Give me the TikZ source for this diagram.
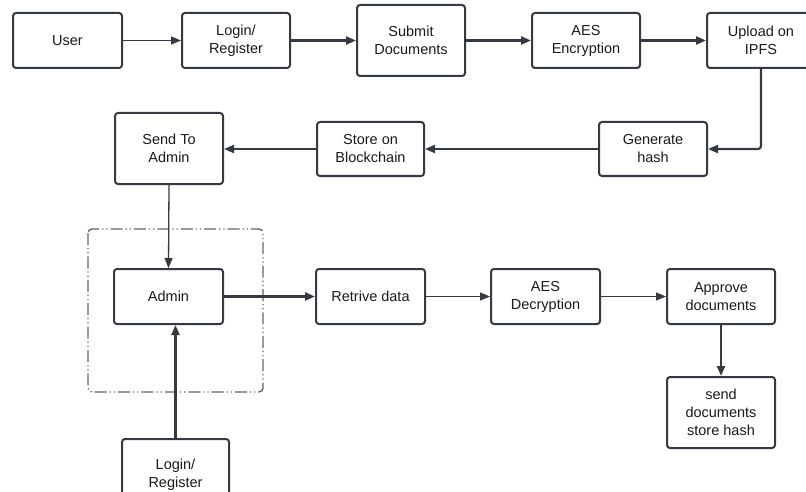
\documentclass[tikz,border=0pt]{standalone}
\usepackage{fontspec}
\setmainfont{Liberation Sans}
\usetikzlibrary{arrows.meta}
\definecolor{ink}{HTML}{353941}
\definecolor{txt}{HTML}{1A1A1A}
\definecolor{frame}{HTML}{666666}
\tikzset{
  box/.style={draw=ink, line width=2pt, rounded corners=3pt, fill=white, align=center,
    text=txt, font=\fontsize{14.5}{18}\selectfont, inner sep=0pt},
  thinarrow/.style={draw=ink, line width=1.3pt, -{Triangle[length=10pt,width=8pt]}},
  thickarrow/.style={draw=ink, line width=2.2pt, -{Triangle[length=10pt,width=8pt]}},
  groupframe/.style={draw=frame, line width=1.4pt, rounded corners=4pt,
    dash pattern=on 12pt off 3pt on 1.2pt off 3pt on 1.2pt off 3pt},
}
\begin{document}
\begin{tikzpicture}[x=1pt,y=-1pt]
\useasboundingbox (0,0) rectangle (806,492);
\clip (0,0) rectangle (806,492);
\fill[white] (0,0) rectangle (806,492);

\draw[groupframe] (88,229) rectangle (263,392);

\node[box, minimum width=109pt, minimum height=55pt] (user) at (67.5,40.5) {User};
\node[box, minimum width=108pt, minimum height=55pt] (login1) at (236,40.5) {Login/\\Register};
\node[box, minimum width=108pt, minimum height=71pt] (submit) at (411,40.5) {Submit\\Documents};
\node[box, minimum width=108pt, minimum height=55pt] (aes) at (586,40.5) {AES\\Encryption};
\node[box, minimum width=108pt, minimum height=55pt] (ipfs) at (761,40.5) {Upload on\\IPFS};
\node[box, minimum width=108pt, minimum height=54pt] (gen) at (653,149) {Generate\\hash};
\node[box, minimum width=107pt, minimum height=54pt] (store) at (370.5,149) {Store on\\Blockchain};
\node[box, minimum width=108pt, minimum height=71pt] (send) at (169,148.5) {Send To\\Admin};
\node[box, minimum width=109pt, minimum height=55pt] (admin) at (168.5,296.5) {Admin};
\node[box, minimum width=109pt, minimum height=55pt] (retrive) at (370.5,296.5) {Retrive data};
\node[box, minimum width=109pt, minimum height=55pt] (aesd) at (545.5,296.5) {AES\\Decryption};
\node[box, minimum width=108pt, minimum height=55pt] (approve) at (721,296.5) {Approve\\documents};
\node[box, minimum width=108pt, minimum height=71pt] (sendhash) at (721,412.5) {send\\documents\\store hash};
\node[box, minimum width=107pt, minimum height=71pt] (login2) at (175.5,474.5) {Login/\\Register};

\draw[thinarrow] (user) -- (login1);
\draw[thickarrow] (login1) -- (login1 -| submit.west);
\draw[thickarrow] (submit.east |- aes) -- (aes);
\draw[thickarrow] (aes) -- (ipfs);
\draw[thickarrow, rounded corners=3pt] (ipfs.south) |- (gen.east);
\draw[thickarrow] (gen) -- (store);
\draw[thickarrow] (store) -- (store -| send.east);
\draw[thinarrow] (send.south) -- (admin.north);
\draw[thickarrow] (login2.north) -- (login2.north |- admin.south);
\draw[thickarrow] (admin) -- (retrive);
\draw[thinarrow] (retrive) -- (aesd);
\draw[thinarrow] (aesd) -- (approve);
\draw[thickarrow] (approve) -- (sendhash);
\end{tikzpicture}
\end{document}
